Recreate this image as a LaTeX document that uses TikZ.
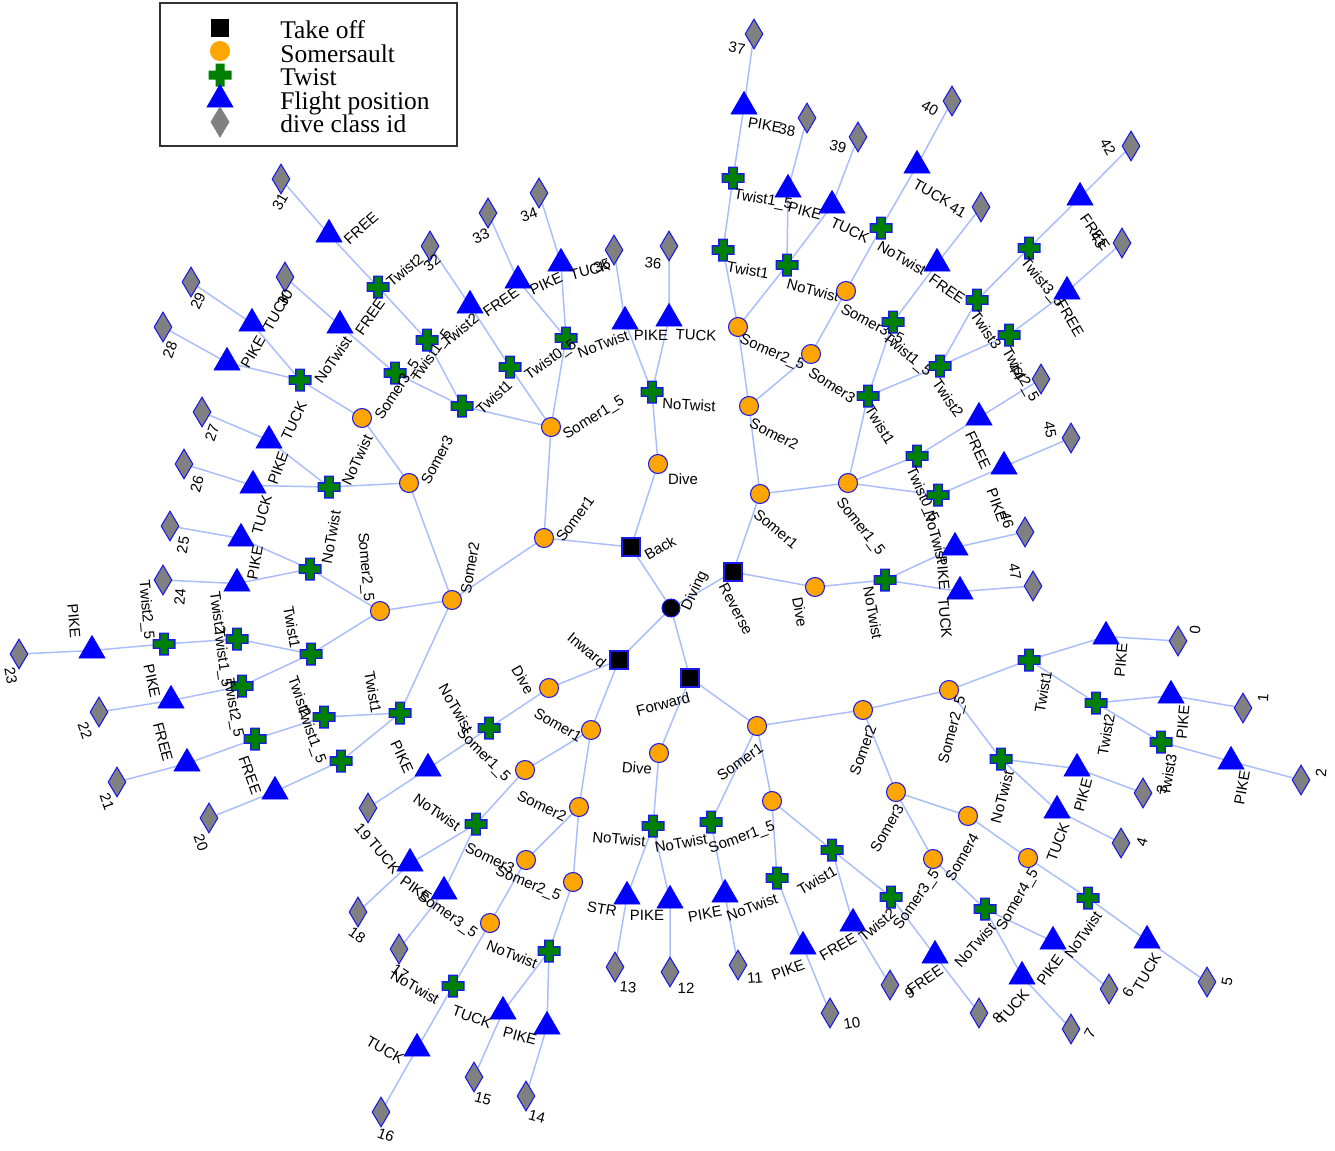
\documentclass[tikz,border=0pt]{standalone}
\usepackage{fontspec}
\setmainfont{Liberation Serif}
\setsansfont{Liberation Sans}
\usetikzlibrary{shapes.geometric,backgrounds}

\definecolor{linkblue}{RGB}{170,190,250}
\definecolor{somerorange}{RGB}{255,165,0}
\definecolor{twistgreen}{RGB}{0,128,0}
\definecolor{markblue}{RGB}{25,25,235}

\tikzset{
  link/.style={draw=linkblue, line width=0.85pt},
  rootnode/.style={circle, fill=black, draw=markblue, line width=0.6pt, minimum size=0.36cm, inner sep=0pt},
  takeoff/.style={rectangle, fill=black, draw=markblue, line width=0.6pt, minimum size=0.36cm, inner sep=0pt},
  somer/.style={circle, fill=somerorange, draw=markblue, line width=0.6pt, minimum size=0.38cm, inner sep=0pt},
  twist/.style={rectangle, minimum size=0.48cm, inner sep=0pt,
    path picture={
      \begin{scope}[shift={(path picture bounding box.center)}]
        \fill[markblue] (-11.5,-4.8) rectangle (11.5,4.8) (-4.8,-11.5) rectangle (4.8,11.5);
        \fill[twistgreen] (-10.2,-3.5) rectangle (10.2,3.5) (-3.5,-10.2) rectangle (3.5,10.2);
      \end{scope}}},
  twistkey/.style={rectangle, minimum size=0.48cm, inner sep=0pt,
    path picture={
      \begin{scope}[shift={(path picture bounding box.center)}]
        \fill[twistgreen] (-11.5,-4.5) rectangle (11.5,4.5) (-4.5,-11.5) rectangle (4.5,11.5);
      \end{scope}}},
  flight/.style={regular polygon, regular polygon sides=3, fill=blue, draw=blue, minimum size=0.6cm, inner sep=0pt, yshift=-2pt},
  classid/.style={diamond, fill=gray, draw=markblue, line width=0.6pt, minimum width=0.36cm, minimum height=0.6cm, inner sep=0pt},
  lbl/.style={font=\sffamily\fontsize{8.5}{10}\selectfont, inner sep=0pt},
  keytext/.style={font=\fontsize{14.5}{16}\selectfont, anchor=base west, inner sep=0pt}
}

\begin{document}
\begin{tikzpicture}[x=0.02cm, y=-0.02cm]
    \useasboundingbox (0,0) rectangle (1335,1150);

    % Leyenda.
    \draw[black!80, line width=0.6pt] (160,3) rectangle (457,146);
    \node[takeoff, draw=none] (keysq) at (220,28) {};
    \node[somer, draw=somerorange] (keyci) at (220,51) {};
    \node[twistkey] (keytw) at (220,75) {};
    \node[flight] (keyfl) at (220,96) {};
    \node[classid, draw=gray] (keycl) at (220,122) {};
    \node[keytext] (keyt1) at (280,38) {Take off};
    \node[keytext] (keyt2) at (280,62) {Somersault};
    \node[keytext] (keyt3) at (280,85) {Twist};
    \node[keytext] (keyt4) at (280,109) {Flight position};
    \node[keytext] (keyt5) at (280,132) {dive class id};

    % Raiz y salidas.
    \node[rootnode] (div) at (671,608) {};
    \node[lbl, rotate=65] (divl) at (695,591) {Diving};
    \node[takeoff] (back) at (631,547) {};
    \node[lbl, rotate=30] (backl) at (660,548) {Back};
    \node[takeoff] (rev) at (733,572) {};
    \node[lbl, rotate=-62] (revl) at (736,609) {Reverse};
    \node[takeoff] (inw) at (619,660) {};
    \node[lbl, rotate=-40] (inwl) at (587,650) {Inward};
    \node[takeoff] (fwd) at (690,678) {};
    \node[lbl, rotate=15] (fwdl) at (663,704) {Forward};

    % Back: Dive.
    \node[somer] (bdive) at (658,464) {};
    \node[lbl] (bdivel) at (683,479) {Dive};
    \node[twist] (bdnt) at (652,392) {};
    \node[lbl, rotate=-3] (bdntl) at (689,405) {NoTwist};
    \node[flight] (bdpike) at (625,318) {};
    \node[lbl] (bdpikel) at (651,335) {PIKE};
    \node[flight] (bdtuck) at (669,315) {};
    \node[lbl, rotate=-3] (bdtuckl) at (696,335) {TUCK};
    \node[classid] (c35) at (614,250) {};
    \node[lbl, rotate=20] (c35l) at (602,266) {35};
    \node[classid] (c36) at (669,246) {};
    \node[lbl, rotate=-5] (c36l) at (653,263) {36};

    % Back: Somer1 y Somer1_5.
    \node[somer] (bs1) at (544,538) {};
    \node[lbl, rotate=53] (bs1l) at (575,519) {Somer1};
    \node[somer] (bs15) at (551,427) {};
    \node[lbl, rotate=32] (bs15l) at (594,418) {Somer1\_5};
    \node[twist] (bs15nt) at (566,338) {};
    \node[lbl, rotate=20] (bs15ntl) at (603,344) {NoTwist};
    \node[twist] (bs15t05) at (510,367) {};
    \node[lbl, rotate=35] (bs15t05l) at (551,360) {Twist0\_5};
    \node[twist] (bs15t1) at (462,406) {};
    \node[lbl, rotate=43] (bs15t1l) at (494,397) {Twist1};
    \node[twist] (bs15t15) at (395,373) {};
    \node[lbl, rotate=55] (bs15t15l) at (432,356) {Twist1\_5};
    \node[twist] (bs15t2) at (427,340) {};
    \node[lbl, rotate=40] (bs15t2l) at (460,330) {Twist2};
    \node[twist] (bs15t25) at (378,287) {};
    \node[lbl, rotate=40] (bs15t25l) at (412,266) {Twist2\_5};
    \node[flight] (f30) at (340,322) {};
    \node[lbl, rotate=55] (f30l) at (370,317) {FREE};
    \node[flight] (f31) at (329,231) {};
    \node[lbl, rotate=42] (f31l) at (361,228) {FREE};
    \node[flight] (f32) at (470,302) {};
    \node[lbl, rotate=35] (f32l) at (501,302) {FREE};
    \node[flight] (f33) at (518,277) {};
    \node[lbl, rotate=25] (f33l) at (546,284) {PIKE};
    \node[flight] (f34) at (561,260) {};
    \node[lbl, rotate=15] (f34l) at (590,270) {TUCK};
    \node[classid] (c30) at (285,277) {};
    \node[lbl, rotate=60] (c30l) at (285,298) {30};
    \node[classid] (c31) at (281,179) {};
    \node[lbl, rotate=60] (c31l) at (280,202) {31};
    \node[classid] (c32) at (430,246) {};
    \node[lbl, rotate=40] (c32l) at (432,263) {32};
    \node[classid] (c33) at (488,213) {};
    \node[lbl, rotate=25] (c33l) at (481,236) {33};
    \node[classid] (c34) at (539,193) {};
    \node[lbl, rotate=20] (c34l) at (529,215) {34};

    % Back: Somer2, Somer3.
    \node[somer] (bs2) at (452,600) {};
    \node[lbl, rotate=80] (bs2l) at (470,568) {Somer2};
    \node[somer] (bs3) at (409,483) {};
    \node[lbl, rotate=62] (bs3l) at (437,460) {Somer3};
    \node[somer] (bs35) at (362,418) {};
    \node[lbl, rotate=57] (bs35l) at (398,390) {Somer3\_5};
    \node[twist] (bs35nt) at (300,380) {};
    \node[lbl, rotate=55] (bs35ntl) at (333,360) {NoTwist};
    \node[flight] (f28) at (227,359) {};
    \node[lbl, rotate=60] (f28l) at (253,352) {PIKE};
    \node[flight] (f29) at (252,320) {};
    \node[lbl, rotate=60] (f29l) at (277,312) {TUCK};
    \node[classid] (c28) at (163,327) {};
    \node[lbl, rotate=70] (c28l) at (170,350) {28};
    \node[classid] (c29) at (191,282) {};
    \node[lbl, rotate=65] (c29l) at (198,301) {29};
    \node[twist] (bs3nt) at (329,487) {};
    \node[lbl, rotate=65] (bs3ntl) at (357,460) {NoTwist};
    \node[flight] (f27) at (269,437) {};
    \node[lbl, rotate=65] (f27l) at (294,421) {TUCK};
    \node[flight] (f26) at (253,482) {};
    \node[lbl, rotate=70] (f26l) at (278,468) {PIKE};
    \node[classid] (c27) at (202,412) {};
    \node[lbl, rotate=70] (c27l) at (212,433) {27};
    \node[classid] (c26) at (184,464) {};
    \node[lbl, rotate=75] (c26l) at (197,484) {26};

    % Back: Somer2_5.
    \node[somer] (bs25) at (380,611) {};
    \node[lbl, rotate=-85] (bs25l) at (365,567) {Somer2\_5};
    \node[twist] (bs25nt) at (310,569) {};
    \node[lbl, rotate=80] (bs25ntl) at (331,537) {NoTwist};
    \node[flight] (f25) at (241,535) {};
    \node[lbl, rotate=75] (f25l) at (262,515) {TUCK};
    \node[flight] (f24) at (237,580) {};
    \node[lbl, rotate=80] (f24l) at (255,563) {PIKE};
    \node[classid] (c25) at (170,526) {};
    \node[lbl, rotate=80] (c25l) at (183,545) {25};
    \node[classid] (c24) at (163,580) {};
    \node[lbl, rotate=85] (c24l) at (180,597) {24};
    \node[twist] (bs25t1) at (311,654) {};
    \node[lbl, rotate=-80] (bs25t1l) at (292,627) {Twist1};
    \node[twist] (bs25t2) at (237,639) {};
    \node[lbl, rotate=-82] (bs25t2l) at (218,613) {Twist2};
    \node[twist] (bs25t15) at (242,686) {};
    \node[lbl, rotate=-82] (bs25t15l) at (222,658) {Twist1\_5};
    \node[twist] (bs25t25) at (164,644) {};
    \node[lbl, rotate=-85] (bs25t25l) at (146,610) {Twist2\_5};
    \node[flight] (f23) at (92,647) {};
    \node[lbl, rotate=-85] (f23l) at (74,621) {PIKE};
    \node[classid] (c23) at (19,654) {};
    \node[lbl, rotate=-80] (c23l) at (11,676) {23};
    \node[flight] (f22) at (171,697) {};
    \node[lbl, rotate=-78] (f22l) at (152,681) {PIKE};
    \node[classid] (c22) at (99,712) {};
    \node[lbl, rotate=-70] (c22l) at (85,731) {22};

    % Back: Somer2 con giros.
    \node[twist] (bs2t1) at (400,713) {};
    \node[lbl, rotate=-80] (bs2t1l) at (373,692) {Twist1};
    \node[twist] (bs2t2) at (324,717) {};
    \node[lbl, rotate=-70] (bs2t2l) at (300,697) {Twist2};
    \node[twist] (bs2t15) at (341,761) {};
    \node[lbl, rotate=-70] (bs2t15l) at (311,735) {Twist1\_5};
    \node[twist] (bs2t25) at (255,739) {};
    \node[lbl, rotate=-80] (bs2t25l) at (233,708) {Twist2\_5};
    \node[flight] (f21) at (187,760) {};
    \node[lbl, rotate=-75] (f21l) at (163,742) {FREE};
    \node[classid] (c21) at (117,782) {};
    \node[lbl, rotate=-70] (c21l) at (107,802) {21};
    \node[flight] (f20) at (275,788) {};
    \node[lbl, rotate=-70] (f20l) at (250,775) {FREE};
    \node[classid] (c20) at (209,818) {};
    \node[lbl, rotate=-70] (c20l) at (201,843) {20};

    % Inward.
    \node[somer] (idive) at (549,688) {};
    \node[lbl, rotate=-60] (idivel) at (523,680) {Dive};
    \node[twist] (idnt) at (489,728) {};
    \node[lbl, rotate=-60] (idntl) at (456,708) {NoTwist};
    \node[flight] (f19) at (428,765) {};
    \node[lbl, rotate=-65] (f19l) at (402,757) {PIKE};
    \node[classid] (c19) at (368,808) {};
    \node[lbl, rotate=-50] (c19l) at (363,832) {19};
    \node[somer] (is1) at (591,730) {};
    \node[lbl, rotate=-30] (is1l) at (558,725) {Somer1};
    \node[somer] (is15) at (525,770) {};
    \node[lbl, rotate=-45] (is15l) at (483,755) {Somer1\_5};
    \node[twist] (is15nt) at (476,824) {};
    \node[lbl, rotate=-35] (is15ntl) at (437,812) {NoTwist};
    \node[flight] (f18) at (410,860) {};
    \node[lbl, rotate=-50] (f18l) at (384,856) {TUCK};
    \node[flight] (f17) at (444,888) {};
    \node[lbl, rotate=-35] (f17l) at (416,889) {PIKE};
    \node[classid] (c18) at (358,912) {};
    \node[lbl, rotate=-35] (c18l) at (357,935) {18};
    \node[classid] (c17) at (399,949) {};
    \node[lbl, rotate=-35] (c17l) at (400,972) {17};
    \node[somer] (is2) at (579,807) {};
    \node[lbl, rotate=-25] (is2l) at (542,806) {Somer2};
    \node[somer] (is25) at (573,882) {};
    \node[lbl, rotate=-22] (is25l) at (528,884) {Somer2\_5};
    \node[twist] (is25nt) at (549,951) {};
    \node[lbl, rotate=-22] (is25ntl) at (512,954) {NoTwist};
    \node[flight] (f15) at (503,1008) {};
    \node[lbl, rotate=-20] (f15l) at (472,1017) {TUCK};
    \node[flight] (f14) at (547,1023) {};
    \node[lbl, rotate=-15] (f14l) at (520,1036) {PIKE};
    \node[classid] (c15) at (474,1077) {};
    \node[lbl, rotate=-15] (c15l) at (483,1099) {15};
    \node[classid] (c14) at (526,1096) {};
    \node[lbl, rotate=-15] (c14l) at (537,1117) {14};
    \node[somer] (is3) at (526,860) {};
    \node[lbl, rotate=-25] (is3l) at (490,858) {Somer3};
    \node[somer] (is35) at (490,923) {};
    \node[lbl, rotate=-35] (is35l) at (447,915) {Somer3\_5};
    \node[twist] (is35nt) at (453,986) {};
    \node[lbl, rotate=-30] (is35ntl) at (415,987) {NoTwist};
    \node[flight] (f16) at (417,1045) {};
    \node[lbl, rotate=-30] (f16l) at (385,1050) {TUCK};
    \node[classid] (c16) at (381,1112) {};
    \node[lbl, rotate=-20] (c16l) at (386,1135) {16};

    % Forward: Dive, Somer1, Somer1_5.
    \node[somer] (fdive) at (659,753) {};
    \node[lbl, rotate=-5] (fdivel) at (637,768) {Dive};
    \node[twist] (fdnt) at (653,826) {};
    \node[lbl, rotate=-5] (fdntl) at (619,839) {NoTwist};
    \node[flight] (f13) at (627,893) {};
    \node[lbl, rotate=-10] (f13l) at (602,909) {STR};
    \node[flight] (f12) at (670,897) {};
    \node[lbl] (f12l) at (647,915) {PIKE};
    \node[classid] (c13) at (615,967) {};
    \node[lbl, rotate=-5] (c13l) at (628,987) {13};
    \node[classid] (c12) at (670,972) {};
    \node[lbl] (c12l) at (686,988) {12};
    \node[somer] (fs1) at (757,726) {};
    \node[lbl, rotate=35] (fs1l) at (740,762) {Somer1};
    \node[twist] (fs1nt) at (711,822) {};
    \node[lbl, rotate=10] (fs1ntl) at (681,843) {NoTwist};
    \node[flight] (f11) at (725,891) {};
    \node[lbl, rotate=10] (f11l) at (705,914) {PIKE};
    \node[classid] (c11) at (738,965) {};
    \node[lbl, rotate=5] (c11l) at (755,978) {11};
    \node[somer] (fs15) at (772,801) {};
    \node[lbl, rotate=20] (fs15l) at (742,838) {Somer1\_5};
    \node[twist] (fs15nt) at (777,878) {};
    \node[lbl, rotate=20] (fs15ntl) at (752,907) {NoTwist};
    \node[flight] (f10) at (803,943) {};
    \node[lbl, rotate=20] (f10l) at (788,970) {PIKE};
    \node[classid] (c10) at (830,1013) {};
    \node[lbl, rotate=10] (c10l) at (852,1023) {10};
    \node[twist] (fs15t1) at (832,850) {};
    \node[lbl, rotate=30] (fs15t1l) at (817,880) {Twist1};
    \node[flight] (f9) at (853,920) {};
    \node[lbl, rotate=30] (f9l) at (838,947) {FREE};
    \node[classid] (c9) at (890,985) {};
    \node[lbl, rotate=30] (c9l) at (910,993) {9};
    \node[twist] (fs15t2) at (891,897) {};
    \node[lbl, rotate=40] (fs15t2l) at (877,925) {Twist2};
    \node[flight] (f8) at (935,952) {};
    \node[lbl, rotate=35] (f8l) at (925,980) {FREE};
    \node[classid] (c8) at (979,1013) {};
    \node[lbl, rotate=45] (c8l) at (998,1018) {8};

    % Forward: Somer2 y siguientes.
    \node[somer] (fs2) at (863,710) {};
    \node[lbl, rotate=70] (fs2l) at (863,750) {Somer2};
    \node[somer] (fs25) at (949,690) {};
    \node[lbl, rotate=75] (fs25l) at (953,730) {Somer2\_5};
    \node[twist] (fs25t1) at (1029,660) {};
    \node[lbl, rotate=80] (fs25t1l) at (1043,692) {Twist1};
    \node[flight] (f0) at (1106,633) {};
    \node[lbl, rotate=85] (f0l) at (1121,660) {PIKE};
    \node[classid] (c0) at (1178,641) {};
    \node[lbl, rotate=85] (c0l) at (1195,630) {0};
    \node[twist] (fs25t2) at (1096,703) {};
    \node[lbl, rotate=80] (fs25t2l) at (1106,735) {Twist2};
    \node[flight] (f1) at (1171,692) {};
    \node[lbl, rotate=85] (f1l) at (1183,722) {PIKE};
    \node[classid] (c1) at (1243,708) {};
    \node[lbl, rotate=85] (c1l) at (1263,698) {1};
    \node[twist] (fs25t3) at (1161,742) {};
    \node[lbl, rotate=80] (fs25t3l) at (1168,775) {Twist3};
    \node[flight] (f2) at (1231,758) {};
    \node[lbl, rotate=80] (f2l) at (1242,788) {PIKE};
    \node[classid] (c2) at (1301,780) {};
    \node[lbl, rotate=85] (c2l) at (1321,773) {2};
    \node[twist] (fs25nt) at (1001,759) {};
    \node[lbl, rotate=75] (fs25ntl) at (1002,797) {NoTwist};
    \node[flight] (f3) at (1077,765) {};
    \node[lbl, rotate=75] (f3l) at (1083,795) {PIKE};
    \node[classid] (c3) at (1143,793) {};
    \node[lbl, rotate=80] (c3l) at (1162,790) {3};
    \node[flight] (f4) at (1057,807) {};
    \node[lbl, rotate=70] (f4l) at (1058,842) {TUCK};
    \node[classid] (c4) at (1121,843) {};
    \node[lbl, rotate=75] (c4l) at (1142,842) {4};
    \node[somer] (fs3) at (896,792) {};
    \node[lbl, rotate=60] (fs3l) at (887,828) {Somer3};
    \node[somer] (fs35) at (933,859) {};
    \node[lbl, rotate=55] (fs35l) at (917,900) {Somer3\_5};
    \node[twist] (fs35nt) at (985,909) {};
    \node[lbl, rotate=48] (fs35ntl) at (975,945) {NoTwist};
    \node[flight] (f7) at (1022,973) {};
    \node[lbl, rotate=50] (f7l) at (1013,1007) {TUCK};
    \node[classid] (c7) at (1071,1029) {};
    \node[lbl, rotate=60] (c7l) at (1090,1033) {7};
    \node[flight] (f6) at (1053,938) {};
    \node[lbl, rotate=55] (f6l) at (1050,970) {PIKE};
    \node[classid] (c6) at (1109,989) {};
    \node[lbl, rotate=60] (c6l) at (1128,992) {6};
    \node[somer] (fs4) at (968,816) {};
    \node[lbl, rotate=60] (fs4l) at (962,857) {Somer4};
    \node[somer] (fs45) at (1028,858) {};
    \node[lbl, rotate=60] (fs45l) at (1018,900) {Somer4\_5};
    \node[twist] (fs45nt) at (1088,898) {};
    \node[lbl, rotate=55] (fs45ntl) at (1083,935) {NoTwist};
    \node[flight] (f5) at (1147,937) {};
    \node[lbl, rotate=60] (f5l) at (1147,972) {TUCK};
    \node[classid] (c5) at (1207,982) {};
    \node[lbl, rotate=80] (c5l) at (1227,982) {5};

    % Reverse: Somer1, Somer2, Somer3.
    \node[somer] (rs1) at (760,494) {};
    \node[lbl, rotate=-40] (rs1l) at (776,529) {Somer1};
    \node[somer] (rs2) at (749,406) {};
    \node[lbl, rotate=-27] (rs2l) at (774,434) {Somer2};
    \node[somer] (rs25) at (738,327) {};
    \node[lbl, rotate=-23] (rs25l) at (772,353) {Somer2\_5};
    \node[twist] (rs25t1) at (723,250) {};
    \node[lbl, rotate=-10] (rs25t1l) at (748,270) {Twist1};
    \node[twist] (rs25t15) at (733,178) {};
    \node[lbl, rotate=-10] (rs25t15l) at (763,200) {Twist1\_5};
    \node[flight] (f37) at (744,103) {};
    \node[lbl, rotate=-10] (f37l) at (765,125) {PIKE};
    \node[classid] (c37) at (754,34) {};
    \node[lbl, rotate=-10] (c37l) at (737,48) {37};
    \node[twist] (rs25nt) at (787,265) {};
    \node[lbl, rotate=-15] (rs25ntl) at (813,290) {NoTwist};
    \node[flight] (f38) at (788,186) {};
    \node[lbl, rotate=-15] (f38l) at (805,211) {PIKE};
    \node[classid] (c38) at (807,118) {};
    \node[lbl, rotate=-10] (c38l) at (787,130) {38};
    \node[flight] (f39) at (832,202) {};
    \node[lbl, rotate=-25] (f39l) at (850,230) {TUCK};
    \node[classid] (c39) at (858,137) {};
    \node[lbl, rotate=-15] (c39l) at (838,147) {39};
    \node[somer] (rs3) at (811,354) {};
    \node[lbl, rotate=-33] (rs3l) at (832,385) {Somer3};
    \node[somer] (rs35) at (846,291) {};
    \node[lbl, rotate=-28] (rs35l) at (872,325) {Somer3\_5};
    \node[twist] (rs35nt) at (881,228) {};
    \node[lbl, rotate=-30] (rs35ntl) at (902,258) {NoTwist};
    \node[flight] (f40) at (917,162) {};
    \node[lbl, rotate=-30] (f40l) at (932,193) {TUCK};
    \node[classid] (c40) at (952,101) {};
    \node[lbl, rotate=-30] (c40l) at (930,108) {40};

    % Reverse: Somer1_5 con giros.
    \node[somer] (rs15) at (848,483) {};
    \node[lbl, rotate=-52] (rs15l) at (860,527) {Somer1\_5};
    \node[twist] (rs15t1) at (868,396) {};
    \node[lbl, rotate=-58] (rs15t1l) at (880,425) {Twist1};
    \node[twist] (rs15t15) at (893,322) {};
    \node[lbl, rotate=-40] (rs15t15l) at (907,355) {Twist1\_5};
    \node[twist] (rs15t2) at (940,366) {};
    \node[lbl, rotate=-55] (rs15t2l) at (948,398) {Twist2};
    \node[twist] (rs15t3) at (977,300) {};
    \node[lbl, rotate=-55] (rs15t3l) at (986,330) {Twist3};
    \node[twist] (rs15t25) at (1009,335) {};
    \node[lbl, rotate=-60] (rs15t25l) at (1020,375) {Twist2\_5};
    \node[twist] (rs15t35) at (1029,248) {};
    \node[lbl, rotate=-50] (rs15t35l) at (1042,283) {Twist3\_5};
    \node[flight] (f41) at (937,260) {};
    \node[lbl, rotate=-35] (f41l) at (947,289) {FREE};
    \node[classid] (c41) at (981,207) {};
    \node[lbl, rotate=-30] (c41l) at (958,210) {41};
    \node[flight] (f42) at (1080,194) {};
    \node[lbl, rotate=-55] (f42l) at (1095,232) {FREE};
    \node[classid] (c42) at (1131,146) {};
    \node[lbl, rotate=-60] (c42l) at (1108,147) {42};
    \node[flight] (f43) at (1067,288) {};
    \node[lbl, rotate=-60] (f43l) at (1070,318) {FREE};
    \node[classid] (c43) at (1122,243) {};
    \node[lbl, rotate=-60] (c43l) at (1098,240) {43};
    \node[twist] (rs15t05) at (917,456) {};
    \node[lbl, rotate=-65] (rs15t05l) at (922,495) {Twist0\_5};
    \node[flight] (f44) at (979,414) {};
    \node[lbl, rotate=-65] (f44l) at (978,450) {FREE};
    \node[classid] (c44) at (1041,379) {};
    \node[lbl, rotate=-60] (c44l) at (1016,372) {44};
    \node[twist] (rs15nt) at (938,495) {};
    \node[lbl, rotate=-75] (rs15ntl) at (936,537) {NoTwist};
    \node[flight] (f45) at (1004,463) {};
    \node[lbl, rotate=-70] (f45l) at (997,505) {PIKE};
    \node[classid] (c45) at (1071,438) {};
    \node[lbl, rotate=-80] (c45l) at (1050,430) {45};

    % Reverse: Dive.
    \node[somer] (rdive) at (815,587) {};
    \node[lbl, rotate=-80] (rdivel) at (800,612) {Dive};
    \node[twist] (rdnt) at (885,580) {};
    \node[lbl, rotate=-80] (rdntl) at (873,613) {NoTwist};
    \node[flight] (f46) at (955,544) {};
    \node[lbl, rotate=-85] (f46l) at (943,573) {PIKE};
    \node[classid] (c46) at (1025,532) {};
    \node[lbl, rotate=-75] (c46l) at (1007,520) {46};
    \node[flight] (f47) at (960,588) {};
    \node[lbl, rotate=-85] (f47l) at (945,618) {TUCK};
    \node[classid] (c47) at (1033,586) {};
    \node[lbl, rotate=-80] (c47l) at (1015,572) {47};

    % Aristas del arbol.
    \begin{scope}[on background layer]
        \draw[link] (div.center) -- (back.center) -- (bdive.center) -- (bdnt.center) -- (bdpike.center) -- (c35.center);
        \draw[link] (bdnt.center) -- (bdtuck.center) -- (c36.center);
        \draw[link] (back.center) -- (bs1.center) -- (bs15.center) -- (bs15nt.center) -- (f33.center) -- (c33.center);
        \draw[link] (bs15nt.center) -- (f34.center) -- (c34.center);
        \draw[link] (bs15.center) -- (bs15t05.center) -- (f32.center) -- (c32.center);
        \draw[link] (bs15.center) -- (bs15t1.center) -- (bs15t15.center) -- (f30.center) -- (c30.center);
        \draw[link] (bs15t1.center) -- (bs15t2.center) -- (bs15t25.center) -- (f31.center) -- (c31.center);
        \draw[link] (bs1.center) -- (bs2.center) -- (bs3.center) -- (bs35.center) -- (bs35nt.center) -- (f28.center) -- (c28.center);
        \draw[link] (bs35nt.center) -- (f29.center) -- (c29.center);
        \draw[link] (bs3.center) -- (bs3nt.center) -- (f27.center) -- (c27.center);
        \draw[link] (bs3nt.center) -- (f26.center) -- (c26.center);
        \draw[link] (bs2.center) -- (bs25.center) -- (bs25nt.center) -- (f25.center) -- (c25.center);
        \draw[link] (bs25nt.center) -- (f24.center) -- (c24.center);
        \draw[link] (bs25.center) -- (bs25t1.center) -- (bs25t2.center) -- (bs25t25.center) -- (f23.center) -- (c23.center);
        \draw[link] (bs25t1.center) -- (bs25t15.center) -- (f22.center) -- (c22.center);
        \draw[link] (bs2.center) -- (bs2t1.center) -- (bs2t2.center) -- (bs2t25.center) -- (f21.center) -- (c21.center);
        \draw[link] (bs2t1.center) -- (bs2t15.center) -- (f20.center) -- (c20.center);

        \draw[link] (div.center) -- (inw.center) -- (idive.center) -- (idnt.center) -- (f19.center) -- (c19.center);
        \draw[link] (inw.center) -- (is1.center) -- (is15.center) -- (is15nt.center) -- (f18.center) -- (c18.center);
        \draw[link] (is15nt.center) -- (f17.center) -- (c17.center);
        \draw[link] (is1.center) -- (is2.center) -- (is25.center) -- (is25nt.center) -- (f15.center) -- (c15.center);
        \draw[link] (is25nt.center) -- (f14.center) -- (c14.center);
        \draw[link] (is2.center) -- (is3.center) -- (is35.center) -- (is35nt.center) -- (f16.center) -- (c16.center);

        \draw[link] (div.center) -- (fwd.center) -- (fdive.center) -- (fdnt.center) -- (f13.center) -- (c13.center);
        \draw[link] (fdnt.center) -- (f12.center) -- (c12.center);
        \draw[link] (fwd.center) -- (fs1.center) -- (fs1nt.center) -- (f11.center) -- (c11.center);
        \draw[link] (fs1.center) -- (fs15.center) -- (fs15nt.center) -- (f10.center) -- (c10.center);
        \draw[link] (fs15.center) -- (fs15t1.center) -- (f9.center) -- (c9.center);
        \draw[link] (fs15t1.center) -- (fs15t2.center) -- (f8.center) -- (c8.center);
        \draw[link] (fs1.center) -- (fs2.center) -- (fs25.center) -- (fs25t1.center) -- (f0.center) -- (c0.center);
        \draw[link] (fs25t1.center) -- (fs25t2.center) -- (f1.center) -- (c1.center);
        \draw[link] (fs25t2.center) -- (fs25t3.center) -- (f2.center) -- (c2.center);
        \draw[link] (fs25.center) -- (fs25nt.center) -- (f3.center) -- (c3.center);
        \draw[link] (fs25nt.center) -- (f4.center) -- (c4.center);
        \draw[link] (fs2.center) -- (fs3.center) -- (fs35.center) -- (fs35nt.center) -- (f7.center) -- (c7.center);
        \draw[link] (fs35nt.center) -- (f6.center) -- (c6.center);
        \draw[link] (fs3.center) -- (fs4.center) -- (fs45.center) -- (fs45nt.center) -- (f5.center) -- (c5.center);

        \draw[link] (div.center) -- (rev.center) -- (rs1.center) -- (rs2.center) -- (rs25.center) -- (rs25t1.center) -- (rs25t15.center) -- (f37.center) -- (c37.center);
        \draw[link] (rs25.center) -- (rs25nt.center) -- (f38.center) -- (c38.center);
        \draw[link] (rs25nt.center) -- (f39.center) -- (c39.center);
        \draw[link] (rs2.center) -- (rs3.center) -- (rs35.center) -- (rs35nt.center) -- (f40.center) -- (c40.center);
        \draw[link] (rs1.center) -- (rs15.center) -- (rs15t1.center) -- (rs15t15.center) -- (f41.center) -- (c41.center);
        \draw[link] (rs15t1.center) -- (rs15t2.center) -- (rs15t25.center) -- (f43.center) -- (c43.center);
        \draw[link] (rs15t2.center) -- (rs15t3.center) -- (rs15t35.center) -- (f42.center) -- (c42.center);
        \draw[link] (rs15.center) -- (rs15t05.center) -- (f44.center) -- (c44.center);
        \draw[link] (rs15.center) -- (rs15nt.center) -- (f45.center) -- (c45.center);
        \draw[link] (rev.center) -- (rdive.center) -- (rdnt.center) -- (f46.center) -- (c46.center);
        \draw[link] (rdnt.center) -- (f47.center) -- (c47.center);
    \end{scope}
\end{tikzpicture}
\end{document}
